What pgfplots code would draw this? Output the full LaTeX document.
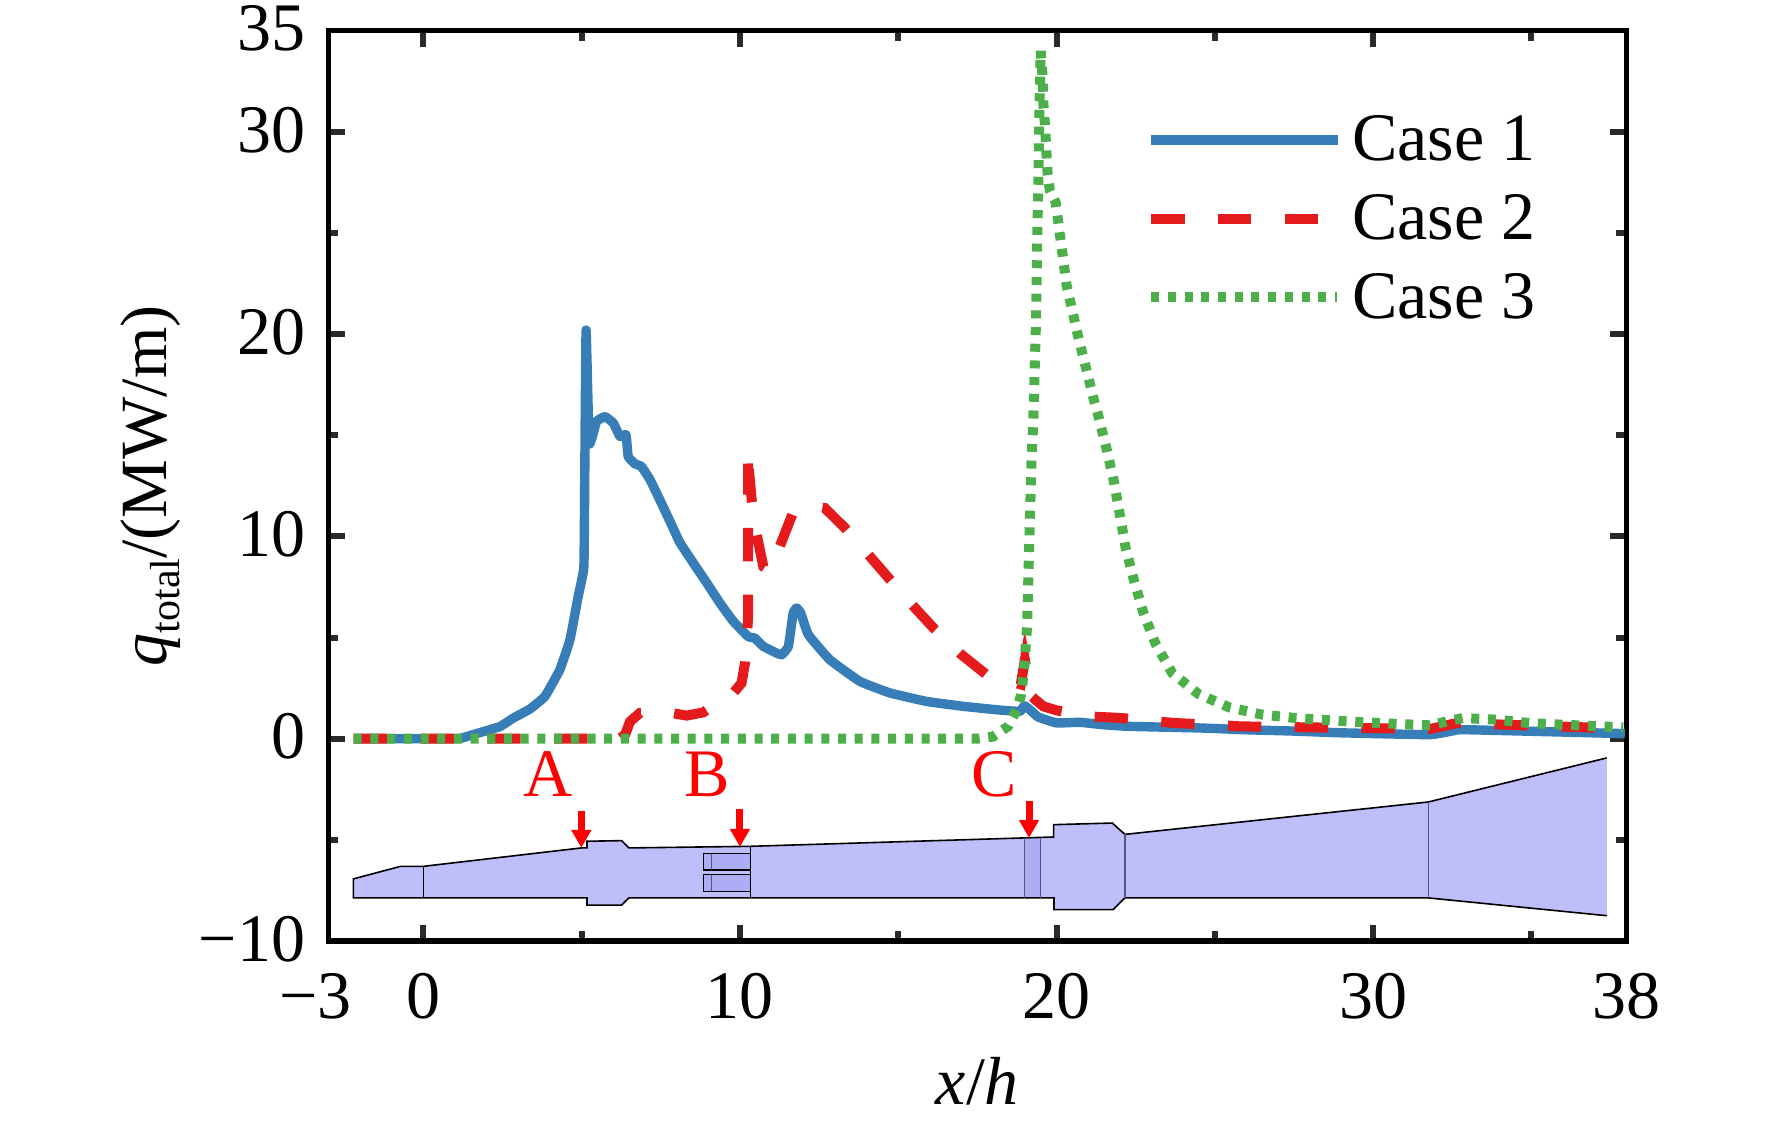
\documentclass[border=0pt]{standalone}
\usepackage{fontspec}
\setmainfont{Liberation Serif}
\usepackage{pgfplots}
\usepackage{pgfplotstable}
\pgfplotsset{compat=1.18}
\usetikzlibrary{arrows.meta}

\definecolor{caseblue}{HTML}{377EB8}
\definecolor{casered}{HTML}{E41A1C}
\definecolor{casegreen}{HTML}{4DAF4A}
\definecolor{ductfill}{HTML}{BEBEFA}
\definecolor{ductdark}{HTML}{ADADF5}
\definecolor{ductline}{HTML}{55557A}
\definecolor{tickgray}{HTML}{2A2A2A}

% duct outline, open on the right-hand side
\pgfplotstableread{
x y
37.38 -0.95
31.74 -3.13
22.16 -4.73
21.76 -4.17
19.91 -4.25
19.91 -4.86
10.33 -5.32
6.49 -5.40
6.26 -5.04
5.17 -5.07
5.17 -5.40
4.99 -5.40
0 -6.31
-0.72 -6.31
-2.21 -6.93
-2.21 -7.87
5.17 -7.87
5.17 -8.23
6.26 -8.23
6.49 -7.87
19.92 -7.87
19.92 -8.45
21.79 -8.45
22.16 -7.87
31.74 -7.87
37.38 -8.75
}\ductoutline

\newcommand{\bigfont}{\fontsize{34}{40}\selectfont}

\begin{document}
\begin{tikzpicture}
\useasboundingbox (-164.2pt,-91pt) rectangle (721.8pt,470.5pt);
\begin{axis}[
    at={(0pt,0pt)},
    anchor=south west,
    scale only axis,
    width=649pt,
    height=455.2pt,
    xmin=-3, xmax=38,
    ymin=-10, ymax=35,
    xtick={0,10,20,30},
    xticklabels={0,10,20,30},
    minor xtick={5,15,25,35},
    ytick={0,10,20,30},
    yticklabels={0,10,20,30},
    minor ytick={-5,5,15,25},
    extra x ticks={-3,38},
    extra x tick labels={{−3\kern13pt},38},
    extra y ticks={-10,35},
    extra y tick labels={−10,35},
    extra tick style={major tick length=0pt},
    tick align=inside,
    major tick length=8.2pt,
    minor tick length=5pt,
    tick style={line width=3pt,color=tickgray},
    axis line style={line width=2.65pt,black},
    tick label style={font=\bigfont},
    xticklabel style={yshift=-12.6pt},
    yticklabel style={xshift=-8pt,yshift=1pt},
    xlabel={\textit{x}/\textit{h}},
    ylabel={\textit{q}\raisebox{-0.2em}{\fontsize{21}{21}\selectfont total}/(MW/m)},
    xlabel style={font=\bigfont},
    ylabel style={font=\fontsize{33}{40}\selectfont},
    xlabel shift=12pt,
    ylabel shift=2.4pt,
    legend style={
        draw=none, fill=none,
        at={(axis cs:22.82,31)}, anchor=north west,
        inner sep=0pt, row sep=11.3pt,
        font=\bigfont,
        /tikz/every odd column/.append style={column sep=3pt},
    },
    legend cell align=left,
    legend image code/.code={
        \draw[#1] plot coordinates {(0pt,0pt) (93pt,0pt)};
    },
]

% Case 1
\addplot[caseblue, line width=4.7pt, line join=round, smooth, tension=0.2] coordinates {
(-2.2,0) (1.0,0) (1.25,0.05) (1.68,0.25) (2.42,0.6) (2.84,1.02) (3.37,1.47) (3.84,2.09)
(4.31,3.41) (4.63,4.89) (4.89,7.03) (5.07,8.51) (5.10,13.45) (5.14,20.2) (5.24,14.6)
(5.47,15.68) (5.74,15.92) (6.0,15.6) (6.21,14.94) (6.40,15.02) (6.47,13.95) (6.68,13.59)
(6.89,13.45) (7.16,12.8) (7.47,11.8) (7.79,10.74) (8.1,9.7) (8.52,8.7) (8.95,7.7)
(9.37,6.7) (9.79,5.8) (10.26,5.05) (10.47,4.97) (10.74,4.56) (11.16,4.23) (11.32,4.15)
(11.53,4.56) (11.68,6.21) (11.79,6.46) (11.92,6.21) (12.16,5.14) (12.84,3.90) (13.79,2.83)
(14.74,2.26) (15.9,1.84) (17.05,1.60) (18.11,1.43) (18.84,1.35) (18.98,1.63) (19.16,1.43)
(19.42,1.07) (20.0,0.78) (20.74,0.81) (21.47,0.69) (22.27,0.61) (24.53,0.53) (26,0.44)
(27.4,0.38) (29,0.29) (31.8,0.2) (32.7,0.44) (33.6,0.42) (37.95,0.25)
};
\addlegendentry{Case 1}

% Case 2
\addplot[casered, line width=5pt, dash pattern=on 16.7pt off 16.7pt] coordinates {
(-2.2,0) (6.2,0) (6.37,0.2) (6.53,0.85) (6.84,1.27) (7.84,1.27) (8.32,1.14) (8.84,1.30)
(9.79,2.26) (10.05,2.75) (10.16,3.74) (10.26,6.04) (10.26,13.6) (10.27,12.8) (10.27,13.55)
(10.37,11.81) (10.53,10.08) (10.74,8.5) (10.95,8.3) (11.32,9.75) (11.69,11.23) (12.2,11.5)
(12.68,11.4) (13.32,10.41) (14.11,9.0) (14.74,7.86) (15.53,6.46) (16.16,5.39) (17.0,4.15)
(17.79,3.16) (18.87,2.68) (19.0,3.9) (19.21,2.09) (19.58,1.6) (20.0,1.40) (21.05,1.10)
(22.06,1.02) (23.69,0.78) (25.79,0.61) (27.9,0.56) (30.06,0.52) (31.8,0.48) (32.64,0.77)
(34.2,0.69) (36.3,0.58) (37.9,0.5)
};
\addlegendentry{Case 2}

% Case 3
\addplot[casegreen, line width=5pt, dash pattern=on 4pt off 4.35pt] coordinates {
(-2.2,0) (17.5,0) (17.99,0.1) (18.47,0.61) (18.74,1.43) (18.88,2.17) (18.95,3.08) (19.0,3.9)
(19.03,4.73) (19.07,5.55) (19.11,8.02) (19.21,13.78) (19.26,15.5) (19.35,20.54) (19.40,25.48)
(19.43,27.95) (19.45,30.42) (19.50,34.0) (19.55,32.9) (19.57,32.1) (19.59,31.2) (19.63,30.4)
(19.66,29.6) (19.69,28.7) (19.72,27.87) (19.79,27.09) (19.97,26.52) (20.32,22.40) (20.67,19.96)
(21.18,16.75) (21.32,15.96) (21.58,14.33) (21.81,12.71) (22.0,11.07) (22.18,9.45) (22.44,7.86)
(22.74,6.24) (23.13,4.68) (23.65,3.25) (24.48,2.21) (25.45,1.55) (26.5,1.19) (27.55,1.02)
(29.14,0.86) (30.74,0.73) (31.8,0.66) (32.32,0.85) (32.83,1.02) (33.9,0.94) (34.95,0.77)
(36.0,0.69) (37.9,0.56)
};
\addlegendentry{Case 3}

% duct sketch under the curves
\addplot[fill=ductfill, draw=none] table {\ductoutline};
\addplot[fill=ductdark, draw=none] coordinates {(18.99,-4.93) (19.49,-4.91) (19.49,-7.87) (18.99,-7.87)};
\addplot[fill=ductdark, draw=none] coordinates {(8.85,-5.68) (10.33,-5.68) (10.33,-6.5) (8.85,-6.5)};
\addplot[fill=ductdark, draw=none] coordinates {(8.85,-6.72) (10.33,-6.72) (10.33,-7.54) (8.85,-7.54)};
\addplot[black, line width=0.8pt] table {\ductoutline};
\addplot[black, line width=0.7pt] coordinates {(10.33,-5.68) (8.85,-5.68) (8.85,-6.5) (10.33,-6.5)};
\addplot[black, line width=0.7pt] coordinates {(10.33,-6.72) (8.85,-6.72) (8.85,-7.54) (10.33,-7.54)};
\addplot[ductline, line width=0.5pt] coordinates {(9.10,-5.68) (9.10,-6.5)};
\addplot[ductline, line width=0.5pt] coordinates {(9.10,-6.72) (9.10,-7.54)};
\addplot[black, line width=0.5pt] coordinates {(0,-6.31) (0,-7.87)};
\addplot[black, line width=0.5pt] coordinates {(10.33,-5.32) (10.33,-7.87)};
\addplot[ductline, line width=0.6pt] coordinates {(18.99,-4.93) (18.99,-7.87)};
\addplot[ductline, line width=0.6pt] coordinates {(19.49,-4.91) (19.49,-7.87)};
\addplot[ductline, line width=0.6pt] coordinates {(22.16,-4.73) (22.16,-7.87)};
\addplot[ductline, line width=0.6pt] coordinates {(31.74,-3.13) (31.74,-7.87)};

% section markers
\addplot[red, line width=3.5pt, -{Triangle[width=9.5pt,length=9pt]}] coordinates {(4.99,-3.59) (4.99,-5.40)};
\addplot[red, line width=3.5pt, -{Triangle[width=9.5pt,length=9pt]}] coordinates {(10,-3.5) (10,-5.35)};
\addplot[red, line width=3.5pt, -{Triangle[width=9.5pt,length=9pt]}] coordinates {(19.13,-3.06) (19.13,-4.91)};
\node[red, font=\bigfont] at (axis cs:3.94,-1.75) {A};
\node[red, font=\bigfont] at (axis cs:8.98,-1.75) {B};
\node[red, font=\bigfont] at (axis cs:18.04,-1.75) {C};

\end{axis}
\end{tikzpicture}
\end{document}
